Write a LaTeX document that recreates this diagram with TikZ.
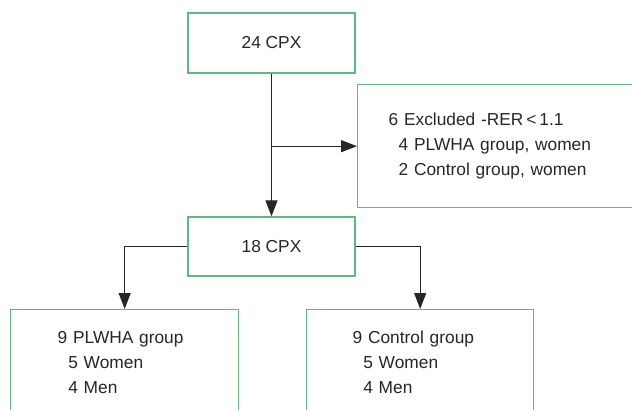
\documentclass[tikz,border=0pt]{standalone}
\usepackage{fontspec}
\setmainfont{Liberation Sans}
\usetikzlibrary{arrows.meta}
\definecolor{boxgreen}{RGB}{96,186,128}
\definecolor{linegray}{RGB}{38,38,38}
\tikzset{every picture/.style={line width=0.75pt}}
\tikzset{
  flowbox/.style={draw=boxgreen, line width=1pt, rectangle, inner sep=0pt, text=linegray, font=\fontsize{13}{18.75}\selectfont},
  flowarrow/.style={draw=linegray, line width=0.9pt, -{Triangle[length=12pt,width=9pt]}}
}

\begin{document}
\begin{tikzpicture}[x=0.75pt,y=0.75pt,yscale=-1,xscale=1]
\useasboundingbox (0,0) rectangle (632,410);
\clip (0,0) rectangle (632,410);

% Text Node
\node[flowbox, minimum width=125.25pt, minimum height=45pt] (cpxall) at (271.5,43) {24 CPX};
% Text Node
\node[flowbox, anchor=north west, minimum height=92.25pt, text width=173.25pt, inner xsep=23.25pt, align=left] (excluded) at (357,84) {6 Excluded -RER\,<\,1.1\\ \hspace*{7.5pt}4 PLWHA group, women\\ \hspace*{7.5pt}2 Control group, women};
% Text Node
\node[flowbox, minimum width=125.25pt, minimum height=44.25pt] (cpxkept) at (271.5,246.5) {18 CPX};
% Text Node
\node[flowbox, anchor=north west, minimum height=79.5pt, text width=100.5pt, inner xsep=35.25pt, align=left] (plwha) at (10,309) {9 PLWHA group\\ \hspace*{8pt}5 Women\\ \hspace*{8pt}4 Men};
% Text Node
\node[flowbox, anchor=north west, minimum height=79.5pt, text width=101.25pt, inner xsep=34.5pt, align=left] (control) at (306,309) {9 Control group\\ \hspace*{8pt}5 Women\\ \hspace*{8pt}4 Men};

% Connection
\draw[flowarrow] (cpxall.south) -- (cpxkept.north);
% Connection
\draw[flowarrow] (cpxall.south |- excluded.west) -- (excluded.west);
% Connection
\draw[flowarrow] (cpxkept.west) -| (plwha.north);
% Connection
\draw[flowarrow] (cpxkept.east) -| (control.north);

\end{tikzpicture}
\end{document}
